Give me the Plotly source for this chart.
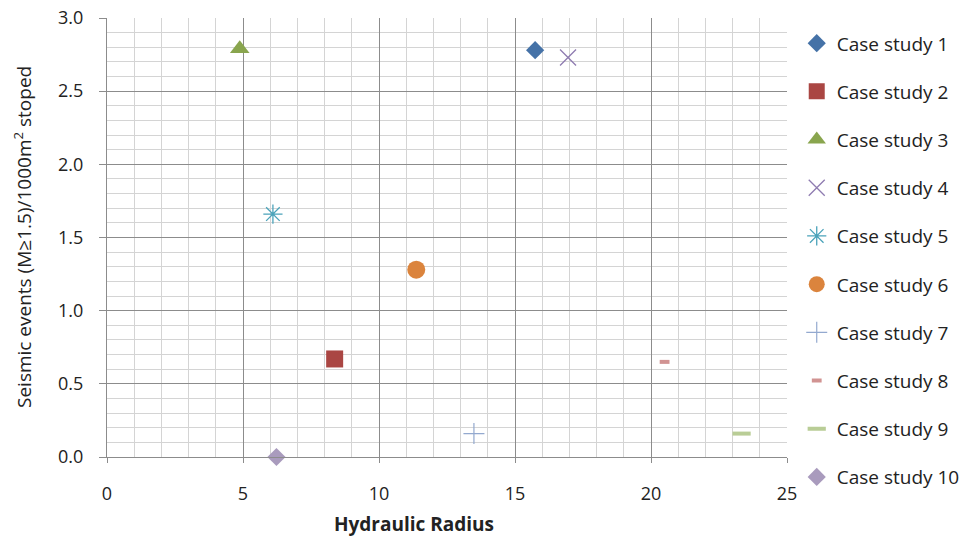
import plotly.graph_objects as go

names = ["Case study 1", "Case study 2", "Case study 3", "Case study 4", "Case study 5",
         "Case study 6", "Case study 7", "Case study 8", "Case study 9", "Case study 10"]
hydraulic_radius = [15.74, 8.37, 4.88, 16.95, 6.10, 11.37, 13.49, 20.50, 23.33, 6.23]
seismic_events = [2.78, 0.67, 2.79, 2.73, 1.66, 1.28, 0.16, 0.65, 0.16, 0.0]

symbols = ["diamond", "square", "triangle-up", "x-thin-open", "asterisk-open",
           "circle", "cross-thin-open", "line-ew-open", "line-ew-open", "diamond"]
colors = ["#4572A7", "#AA4643", "#89A54E", "#8E7BB0", "#4BA3BA",
          "#DB843D", "#93A9CF", "#D19392", "#B9CD96", "#A99BBD"]
sizes = [14, 17, 17, 16, 16, 18, 15, 7, 13, 14]
line_widths = [0, 0, 0, 1.3, 1.3, 0, 1.2, 4, 4, 0]

FONT = "'Open Sans', Calibri, Lato, sans-serif"

L, R, T, B = 107, 187, 18, 83
W, H = 974, 540
pw, ph = W - L - R, H - T - B

def px_to_paper(px, py):
    return (px - L) / pw, (H - B - py) / ph

fig = go.Figure()
for i in range(len(names)):
    fig.add_trace(go.Scatter(
        x=[hydraulic_radius[i]], y=[seismic_events[i]], mode="markers", name=names[i],
        legendgroup=names[i], cliponaxis=False,
        marker=dict(symbol=symbols[i], size=sizes[i], color=colors[i],
                    line=dict(color=colors[i], width=line_widths[i])),
    ))

xt_x, xt_y = px_to_paper(414, 524)
yt_x, yt_y = px_to_paper(23, 237)

fig.update_layout(
    width=W, height=H,
    margin=dict(l=L, r=R, t=T, b=B, autoexpand=False),
    paper_bgcolor="white", plot_bgcolor="white",
    font=dict(family=FONT, size=16, color="#222222"),
    showlegend=True,
    legend=dict(x=0.818, y=0.955, xref="container", yref="container",
                xanchor="left", yanchor="top", font=dict(size=19, color="#222222"),
                tracegroupgap=20.5, itemwidth=30, bgcolor="rgba(0,0,0,0)", maxheight=540),
    xaxis=dict(range=[0, 25], dtick=5, tick0=0, showgrid=True, gridcolor="#8C8C8C", gridwidth=1,
               minor=dict(dtick=1, showgrid=True, gridcolor="#D4D4D4", gridwidth=1),
               showline=True, linecolor="#8C8C8C", linewidth=1, zeroline=False,
               ticks="outside", ticklen=5, tickcolor="#8C8C8C", ticklabelstandoff=15,
               tickfont=dict(size=18, color="#222222"), fixedrange=True),
    yaxis=dict(range=[0, 3.0], dtick=0.5, tick0=0, tickformat=".1f", showgrid=True,
               gridcolor="#8C8C8C", gridwidth=1,
               minor=dict(dtick=0.1, showgrid=True, gridcolor="#D4D4D4", gridwidth=1),
               showline=True, linecolor="#8C8C8C", linewidth=1, zeroline=False,
               ticks="outside", ticklen=7, tickcolor="#8C8C8C", ticklabelstandoff=12,
               tickfont=dict(size=18, color="#222222"), fixedrange=True),
    annotations=[
        dict(text="<b>Hydraulic Radius</b>", x=xt_x, y=xt_y, xref="paper", yref="paper",
             xanchor="center", yanchor="middle",
             showarrow=False, font=dict(size=19, color="#222222")),
        dict(text="Seismic events (M≥1.5)/1000m<sup>2</sup> stoped", x=yt_x, y=yt_y,
             xref="paper", yref="paper", textangle=-90, xanchor="center", yanchor="middle",
             showarrow=False, font=dict(size=19, color="#222222")),
    ],
)

fig.write_html("out.html")
